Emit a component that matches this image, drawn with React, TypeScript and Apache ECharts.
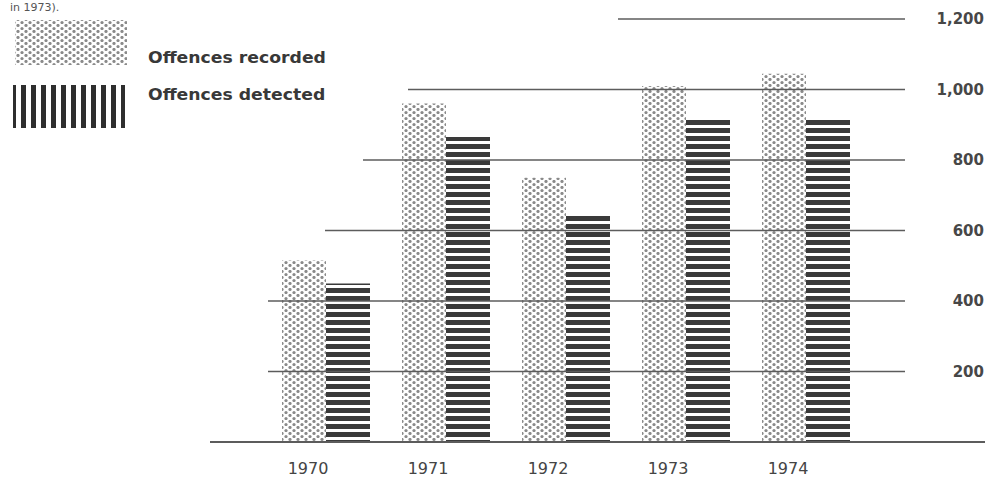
import React, { useEffect, useRef } from "react";
import * as echarts from "echarts";

const years = ["1970", "1971", "1972", "1973", "1974"];
const offencesRecorded = [515, 960, 750, 1010, 1045];
const offencesDetected = [450, 865, 650, 915, 920];
const yTicks = [0, 200, 400, 600, 800, 1000, 1200];
const seriesNames = ["Offences recorded", "Offences detected"];
const noteText = "in 1973).";

// layout of the staggered rules (pixel start / end of each rule)
const RULE_START_X = [210, 268, 268, 325, 363, 408, 618];
const RULE_END_X = [985, 905, 905, 905, 905, 905, 905];

const FONT = "'DejaVu Sans', 'Liberation Sans', sans-serif";

function makeTile(w: number, h: number, draw: (ctx: CanvasRenderingContext2D) => void) {
  const c = document.createElement("canvas");
  c.width = w;
  c.height = h;
  const ctx = c.getContext("2d") as CanvasRenderingContext2D;
  ctx.fillStyle = "#ffffff";
  ctx.fillRect(0, 0, w, h);
  draw(ctx);
  return { image: c.toDataURL(), repeat: "repeat", imageWidth: w, imageHeight: h } as any;
}

export default function App() {
  const ref = useRef<HTMLDivElement>(null);

  useEffect(() => {
    if (!ref.current) return;
    const chart = echarts.init(ref.current, undefined, { renderer: "svg" });

    const dots = makeTile(8, 6, (ctx) => {
      ctx.fillStyle = "#8a8a8a";
      ctx.beginPath();
      ctx.arc(2, 1.5, 1.6, 0, Math.PI * 2);
      ctx.fill();
      ctx.beginPath();
      ctx.arc(6, 4.5, 1.6, 0, Math.PI * 2);
      ctx.fill();
    });
    const hStripes = makeTile(8, 8, (ctx) => {
      ctx.fillStyle = "#3a3a3a";
      ctx.fillRect(0, 0, 8, 5);
    });
    const vStripes = makeTile(10, 10, (ctx) => {
      ctx.fillStyle = "#2e2e2e";
      ctx.fillRect(1, 0, 5, 10);
    });

    const option: any = {
      animation: false,
      backgroundColor: "#ffffff",
      textStyle: { fontFamily: FONT },
      grid: { left: 266, right: 123, top: 19, bottom: 38, containLabel: false },
      xAxis: {
        type: "category",
        data: years,
        axisLine: { show: false },
        axisTick: { show: false },
        splitLine: { show: false },
        axisLabel: {
          color: "#444",
          fontSize: 16,
          fontFamily: FONT,
          margin: 18,
          padding: [0, 36, 0, 0],
        },
      },
      yAxis: {
        type: "value",
        position: "right",
        min: 0,
        max: 1200,
        interval: 200,
        axisLine: { show: false },
        axisTick: { show: false },
        splitLine: { show: false },
        axisLabel: {
          color: "#474747",
          fontSize: 15,
          fontWeight: "bold",
          fontFamily: FONT,
          align: "right",
          margin: 118,
          formatter: (v: number) => (v === 0 ? "" : v.toLocaleString("en-US")),
        },
      },
      series: [
        {
          name: seriesNames[0],
          type: "bar",
          data: offencesRecorded,
          barWidth: 44,
          barGap: "0%",
          itemStyle: { color: dots },
          z: 2,
        },
        {
          name: seriesNames[1],
          type: "bar",
          data: offencesDetected,
          barWidth: 44,
          barGap: "0%",
          itemStyle: { color: hStripes },
          z: 2,
        },
        {
          type: "custom",
          silent: true,
          z: 5,
          data: yTicks.map((v) => [0, v]),
          renderItem: (params: any, api: any) => {
            const y = api.coord([0, api.value(1)])[1];
            const i = params.dataIndex;
            return {
              type: "line",
              shape: { x1: RULE_START_X[i], y1: y, x2: RULE_END_X[i], y2: y },
              style: { stroke: "#5c5c5c", lineWidth: i === 0 ? 2 : 1.6 },
            };
          },
        },
      ],
      graphic: [
        {
          type: "text",
          x: 10,
          y: 2,
          style: {
            text: noteText,
            font: `11px ${FONT}`,
            fill: "#555",
            verticalAlign: "top",
          },
        },
        {
          type: "rect",
          shape: { x: 15, y: 20, width: 112, height: 45 },
          style: { fill: dots },
        },
        {
          type: "rect",
          shape: { x: 13, y: 85, width: 112, height: 43 },
          style: { fill: vStripes },
        },
        {
          type: "text",
          x: 148,
          y: 58,
          scaleX: 1.15,
          style: {
            text: seriesNames[0],
            font: `bold 15px ${FONT}`,
            fill: "#383838",
            verticalAlign: "middle",
          },
        },
        {
          type: "text",
          x: 148,
          y: 95,
          scaleX: 1.15,
          style: {
            text: seriesNames[1],
            font: `bold 15px ${FONT}`,
            fill: "#383838",
            verticalAlign: "middle",
          },
        },
      ],
    };

    chart.setOption(option);
    return () => {
      chart.dispose();
    };
  }, []);

  return (
    <div
      ref={ref}
      style={{ position: "fixed", left: 0, top: 0, width: 989, height: 480, background: "#fff" }}
    />
  );
}
